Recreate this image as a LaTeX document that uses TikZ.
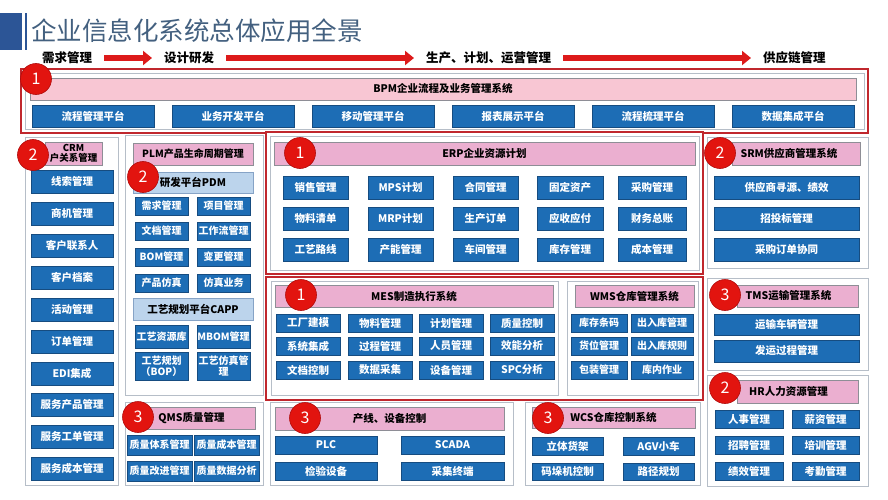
\documentclass[tikz,border=0pt]{standalone}
\usepackage{fontspec}
\setmainfont{Noto Sans CJK SC}
\usetikzlibrary{arrows.meta}
\definecolor{btnblue}{HTML}{1D6DB5}
\definecolor{btnborder}{HTML}{164C80}
\definecolor{hdrpink}{HTML}{EBAFD0}
\definecolor{bpmpink}{HTML}{F8C6D3}
\definecolor{hdrborder}{HTML}{8E8E96}
\definecolor{subblue}{HTML}{BCD4EC}
\definecolor{subborder}{HTML}{86A3C6}
\definecolor{grayline}{HTML}{B6BEC8}
\definecolor{redline}{HTML}{C0272D}
\definecolor{badgered}{HTML}{E2140F}
\definecolor{badgedark}{HTML}{B00C0C}
\definecolor{arrowred}{HTML}{DD1A1A}
\definecolor{titleblue}{HTML}{2C5596}
\definecolor{titlegray}{HTML}{43607F}
\tikzset{
  btn/.style={draw=btnborder, fill=btnblue, text=white, font=\bfseries\fontsize{10.5}{12}\selectfont, inner sep=0pt, align=center, line width=0.8pt},
  sbtn/.style={btn, font=\bfseries\fontsize{10}{11}\selectfont},
  hdr/.style={draw=hdrborder, fill=hdrpink, text=black, font=\bfseries\fontsize{10.5}{12}\selectfont, inner sep=0pt, align=center, line width=0.6pt},
  bpmhdr/.style={hdr, fill=bpmpink},
  subhdr/.style={draw=subborder, fill=subblue, text=black, font=\bfseries\fontsize{10.5}{12}\selectfont, inner sep=0pt, align=center, line width=0.6pt},
  grp/.style={draw=grayline, fill=white, line width=1pt, inner sep=0pt},
  grpin/.style={draw=grayline, line width=0.7pt, inner sep=0pt},
  redgrp/.style={draw=redline, fill=white, line width=1.6pt, inner sep=0pt},
  badge/.style={circle, fill=badgered, draw=badgedark, line width=0.6pt, minimum size=31pt, inner sep=0pt, text=white, font=\fontsize{16}{16}\selectfont},
  proc/.style={font=\bfseries\fontsize{12.5}{14}\selectfont, inner sep=0pt, anchor=west},
  procarrow/.style={draw=arrowred, line width=5.5pt, -{Triangle[length=9pt,width=14pt]}, shorten <=12pt, shorten >=12pt},
}
\newcommand\Cell[7][btn]{\node[#1, minimum width={(#5-#3)*1pt}, minimum height={(#6-#4)*1pt}] (#2) at ({(#3+#5)/2},{(#4+#6)/2}) {#7};}
\begin{document}
\begin{tikzpicture}[x=1pt,y=-1pt]
\useasboundingbox (0,0) rectangle (888,500);
% title
\fill[titleblue] (0,13) rectangle (22,50);
\fill[titleblue] (25,13) rectangle (27,50);
\node[anchor=west, inner sep=0pt, text=titlegray, font=\fontsize{25.5}{28}\selectfont] (title) at (31,31) {企业信息化系统总体应用全景};
% process row
\node[proc] (p1) at (42,58) {需求管理};
\node[proc] (p2) at (164,58) {设计研发};
\node[proc] (p3) at (426,58) {生产、计划、运营管理};
\node[proc] (p4) at (763,58) {供应链管理};
\draw[procarrow] (p1) -- (p2);
\draw[procarrow] (p2) -- (p3);
\draw[procarrow] (p3) -- (p4);
% BPM
\Cell[redgrp]{bpmr}{21}{69}{868}{133}{}
\Cell[grpin]{bpmg}{25}{73}{864}{129}{}
\Cell[bpmhdr]{bpmh}{30}{78}{856}{100}{BPM企业流程及业务管理系统}
\Cell{bpm1}{32}{105}{154}{127}{流程管理平台}
\Cell{bpm2}{172}{105}{294}{127}{业务开发平台}
\Cell{bpm3}{312}{105}{434}{127}{移动管理平台}
\Cell{bpm4}{452}{105}{574}{127}{报表展示平台}
\Cell{bpm5}{592}{105}{714}{127}{流程梳理平台}
\Cell{bpm6}{732}{105}{854}{127}{数据集成平台}
% CRM
\Cell[grp]{crm}{25}{137}{118}{485}{}
\Cell[hdr, font=\bfseries\fontsize{9.5}{10.5}\selectfont]{crmh}{45}{142}{102}{165}{CRM\\户关系管理}
\Cell{crm1}{31}{170}{113}{193}{线索管理}
\Cell{crm2}{31}{202}{113}{225}{商机管理}
\Cell{crm3}{31}{234}{113}{257}{客户联系人}
\Cell{crm4}{31}{266}{113}{289}{客户档案}
\Cell{crm5}{31}{298}{113}{321}{活动管理}
\Cell{crm6}{31}{330}{113}{353}{订单管理}
\Cell{crm7}{31}{362}{113}{385}{EDI集成}
\Cell{crm8}{31}{393}{113}{416}{服务产品管理}
\Cell{crm9}{31}{425}{113}{448}{服务工单管理}
\Cell{crm10}{31}{457}{113}{480}{服务成本管理}
% PLM
\Cell[grp]{plm}{125}{135}{263}{395}{}
\Cell[hdr, font=\bfseries\fontsize{10}{11}\selectfont]{plmh}{133}{143}{253}{165}{PLM产品生命周期管理}
\Cell[subhdr]{pdm}{133}{172}{253}{193}{研发平台PDM}
\Cell[sbtn]{plm1}{135}{197}{188}{215}{需求管理}
\Cell[sbtn]{plm2}{197}{197}{250}{215}{项目管理}
\Cell[sbtn]{plm3}{135}{222}{188}{240}{文档管理}
\Cell[sbtn]{plm4}{197}{222}{250}{240}{工作流管理}
\Cell[sbtn]{plm5}{135}{248}{188}{266}{BOM管理}
\Cell[sbtn]{plm6}{197}{248}{250}{266}{变更管理}
\Cell[sbtn]{plm7}{135}{274}{188}{292}{产品仿真}
\Cell[sbtn]{plm8}{197}{274}{250}{292}{仿真业务}
\Cell[subhdr]{capp}{133}{298}{253}{320}{工艺规划平台CAPP}
\Cell[sbtn]{plm9}{135}{325}{188}{348}{工艺资源库}
\Cell[sbtn]{plm10}{197}{325}{250}{348}{MBOM管理}
\Cell[sbtn]{plm11}{135}{352}{188}{380}{工艺规划\\（BOP）}
\Cell[sbtn]{plm12}{197}{352}{250}{380}{工艺仿真管\\理}
% ERP
\Cell[redgrp]{erpr}{266}{132}{703}{274}{}
\Cell[grpin]{erpg}{270}{136}{699}{270}{}
\Cell[hdr]{erph}{274}{142}{695}{165}{ERP企业资源计划}
\Cell{erp1}{283}{176}{348}{199}{销售管理}
\Cell{erp2}{368}{176}{433}{199}{MPS计划}
\Cell{erp3}{453}{176}{518}{199}{合同管理}
\Cell{erp4}{537}{176}{603}{199}{固定资产}
\Cell{erp5}{618}{176}{686}{199}{采购管理}
\Cell{erp6}{283}{207}{348}{230}{物料清单}
\Cell{erp7}{368}{207}{433}{230}{MRP计划}
\Cell{erp8}{453}{207}{518}{230}{生产订单}
\Cell{erp9}{537}{207}{603}{230}{应收应付}
\Cell{erp10}{618}{207}{686}{230}{财务总账}
\Cell{erp11}{283}{238}{348}{261}{工艺路线}
\Cell{erp12}{368}{238}{433}{261}{产能管理}
\Cell{erp13}{453}{238}{518}{261}{车间管理}
\Cell{erp14}{537}{238}{603}{261}{库存管理}
\Cell{erp15}{618}{238}{686}{261}{成本管理}
% SRM
\Cell[grp]{srm}{707}{137}{868}{268}{}
\Cell[hdr]{srmh}{732}{142}{860}{165}{\hspace*{-14pt}SRM供应商管理系统}
\Cell{srm1}{714}{176}{859}{199}{供应商寻源、绩效}
\Cell{srm2}{714}{207}{859}{230}{招投标管理}
\Cell{srm3}{714}{238}{859}{261}{采购订单协同}
% MES / WMS
\Cell[redgrp]{mwr}{266}{277}{703}{400}{}
\Cell[grp]{mes}{271}{281}{558}{395}{}
\Cell[hdr]{mesh}{275}{285}{553}{307}{MES制造执行系统}
\Cell{mes1}{276}{314}{340}{332}{工厂建模}
\Cell{mes2}{348}{314}{412}{332}{物料管理}
\Cell{mes3}{419}{314}{483}{332}{计划管理}
\Cell{mes4}{490}{314}{554}{332}{质量控制}
\Cell{mes5}{276}{337}{340}{355}{系统集成}
\Cell{mes6}{348}{337}{412}{355}{过程管理}
\Cell{mes7}{419}{337}{483}{355}{人员管理}
\Cell{mes8}{490}{337}{554}{355}{效能分析}
\Cell{mes9}{276}{361}{340}{379}{文档控制}
\Cell{mes10}{348}{361}{412}{379}{数据采集}
\Cell{mes11}{419}{361}{483}{379}{设备管理}
\Cell{mes12}{490}{361}{554}{379}{SPC分析}
\Cell[grp]{wms}{567}{281}{698}{395}{}
\Cell[hdr]{wmsh}{575}{285}{694}{307}{WMS仓库管理系统}
\Cell[sbtn]{wms1}{571}{314}{627}{332}{库存条码}
\Cell[sbtn]{wms2}{631}{314}{693}{332}{出入库管理}
\Cell[sbtn]{wms3}{571}{337}{627}{355}{货位管理}
\Cell[sbtn]{wms4}{631}{337}{693}{355}{出入库规则}
\Cell[sbtn]{wms5}{571}{361}{627}{379}{包装管理}
\Cell[sbtn]{wms6}{631}{361}{693}{379}{库内作业}
% TMS
\Cell[grp]{tms}{707}{278}{868}{370}{}
\Cell[hdr]{tmsh}{737}{285}{858}{307}{\hspace*{-18pt}TMS运输管理系统}
\Cell{tms1}{714}{314}{859}{335}{运输车辆管理}
\Cell{tms2}{714}{340}{859}{362}{发运过程管理}
% HR
\Cell[grp]{hr}{707}{375}{868}{486}{}
\Cell[hdr]{hrh}{737}{380}{858}{403}{\hspace*{-18pt}HR人力资源管理}
\Cell{hr1}{715}{410}{783}{428}{人事管理}
\Cell{hr2}{792}{410}{859}{428}{薪资管理}
\Cell{hr3}{715}{436}{783}{454}{招聘管理}
\Cell{hr4}{792}{436}{859}{454}{培训管理}
\Cell{hr5}{715}{462}{783}{480}{绩效管理}
\Cell{hr6}{792}{462}{859}{480}{考勤管理}
% QMS
\Cell[grp]{qms}{125}{402}{263}{485}{}
\Cell[hdr]{qmsh}{128}{407}{255}{429}{QMS质量管理}
\Cell[sbtn]{qms1}{127}{435}{192}{455}{质量体系管理}
\Cell[sbtn]{qms2}{194}{435}{259}{455}{质量成本管理}
\Cell[sbtn]{qms3}{127}{461}{192}{481}{质量改进管理}
\Cell[sbtn]{qms4}{194}{461}{259}{481}{质量数据分析}
% production line
\Cell[grp]{prod}{270}{402}{513}{485}{}
\Cell[hdr]{prodh}{275}{407}{504}{430}{产线、设备控制}
\Cell{prod1}{275}{436}{377}{454}{PLC}
\Cell{prod2}{401}{436}{504}{454}{SCADA}
\Cell{prod3}{275}{462}{377}{480}{检验设备}
\Cell{prod4}{401}{462}{504}{480}{采集终端}
% WCS
\Cell[grp]{wcs}{525}{402}{700}{485}{}
\Cell[hdr]{wcsh}{532}{407}{695}{428}{WCS仓库控制系统}
\Cell{wcs1}{532}{437}{603}{455}{立体货架}
\Cell{wcs2}{623}{437}{694}{455}{AGV小车}
\Cell{wcs3}{532}{463}{603}{480}{码垛机控制}
\Cell{wcs4}{623}{463}{694}{480}{路径规划}
% badges
\node[badge] (n1) at (36,79) {1};
\node[badge] (n2) at (33,155) {2};
\node[badge] (n3) at (143,177) {2};
\node[badge] (n4) at (300,153) {1};
\node[badge] (n5) at (720,153) {2};
\node[badge] (n6) at (301,295) {1};
\node[badge] (n7) at (725,295) {3};
\node[badge] (n8) at (725,388) {2};
\node[badge] (n9) at (138,417) {3};
\node[badge] (n10) at (305,418) {3};
\node[badge] (n11) at (548,418) {3};
\end{tikzpicture}
\end{document}
